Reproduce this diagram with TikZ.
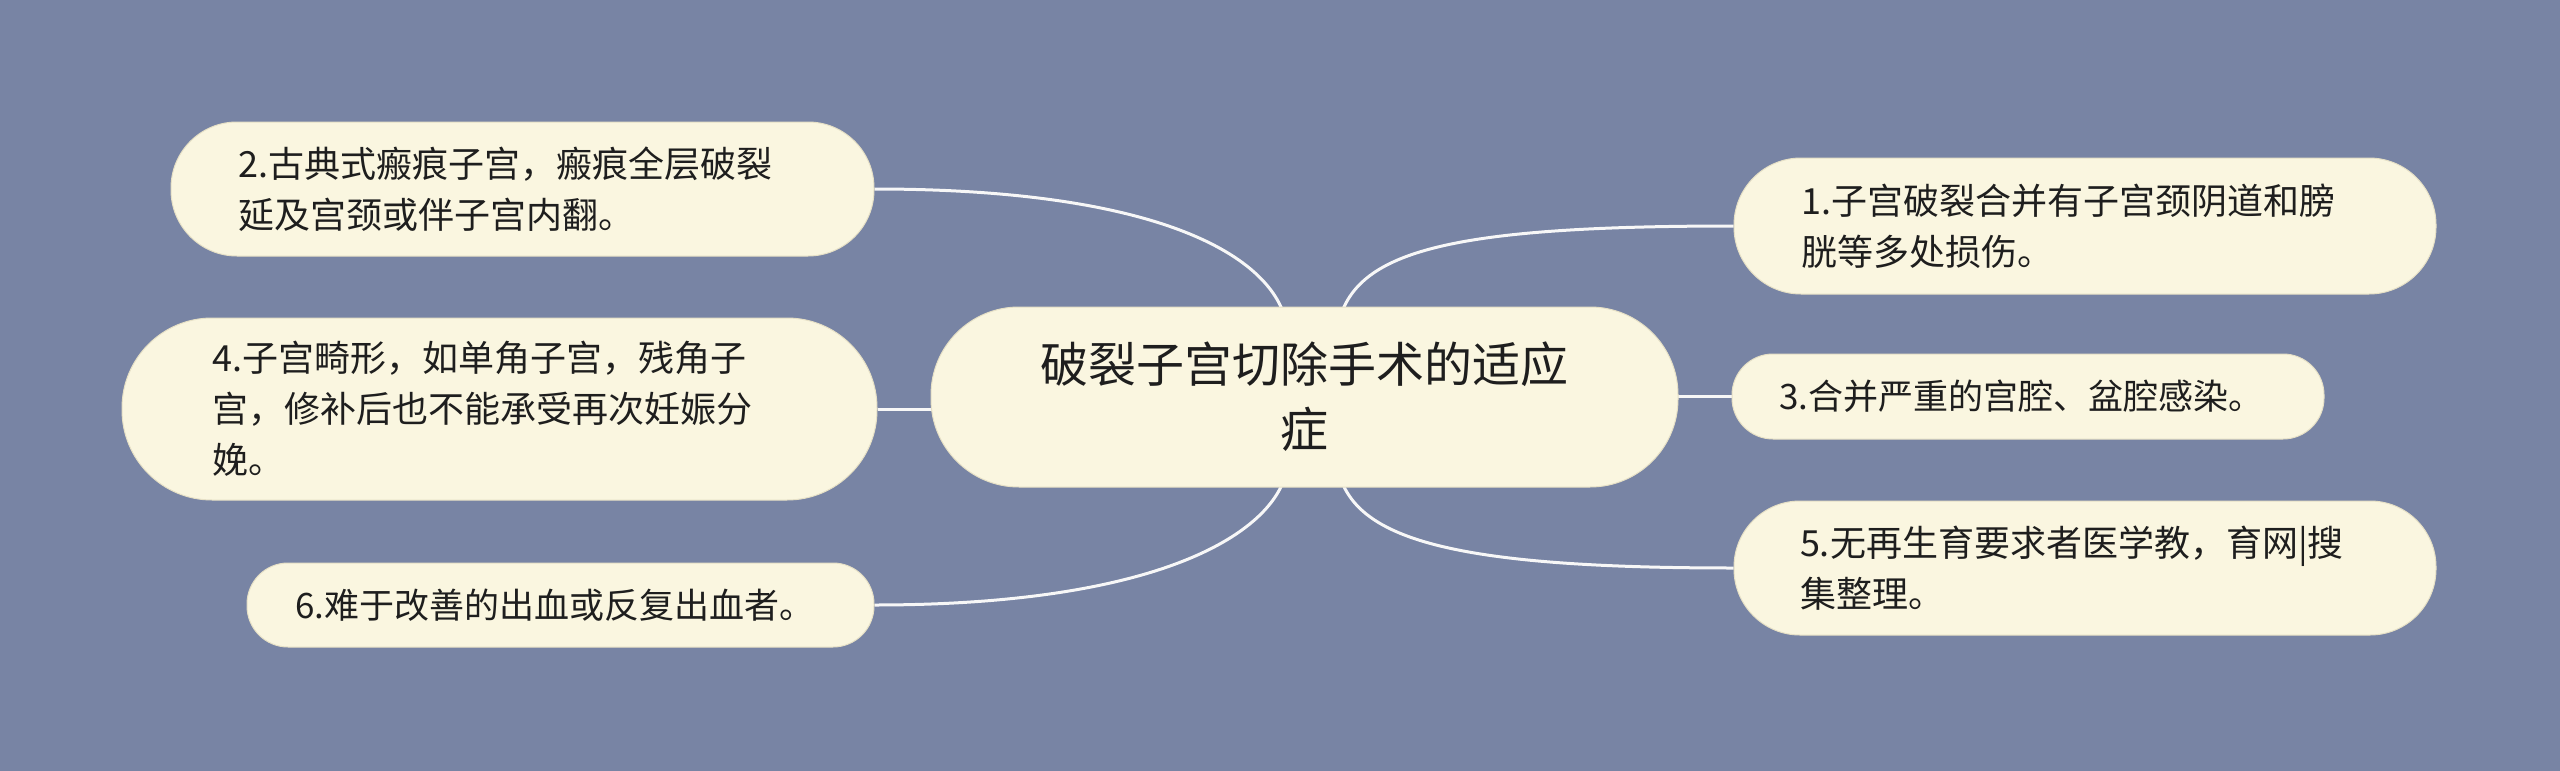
\documentclass[tikz,border=0pt]{standalone}
\usepackage{fontspec}
\setmainfont{Noto Sans CJK SC}
\usetikzlibrary{calc,backgrounds}
\definecolor{bgc}{HTML}{7884A4}
\definecolor{nodefill}{HTML}{FAF6E0}
\definecolor{nodeedge}{HTML}{E6E0C6}
\definecolor{txt}{HTML}{1E1E1E}
\definecolor{wire}{HTML}{F7F7F7}
\begin{document}
\begin{tikzpicture}[x=1pt,y=-1pt,
  pill/.style={fill=nodefill, draw=nodeedge, line width=1pt, inner sep=0pt, text=txt},
  topic/.style={pill, align=left, font=\fontsize{36}{51}\selectfont},
  maintopic/.style={pill, align=center, font=\fontsize{48}{65}\selectfont},
  link/.style={draw=wire, line width=3pt}]
\useasboundingbox (0,0) rectangle (2560,771);

\node[maintopic, minimum width=747pt, minimum height=180pt, rounded corners=88pt] (c) at (1304.5,397) {破裂子宫切除手术的适应\\症};

\node[topic, text width=568pt, minimum width=703pt, minimum height=134pt, rounded corners=66pt] (n2) at (522.5,189) {2.古典式瘢痕子宫，瘢痕全层破裂\\延及宫颈或伴子宫内翻。};
\node[topic, text width=574pt, minimum width=755pt, minimum height=182pt, rounded corners=90pt] (n4) at (499.5,409) {4.子宫畸形，如单角子宫，残角子\\宫，修补后也不能承受再次妊娠分\\娩。};
\node[topic, text width=530pt, minimum width=627pt, minimum height=84pt, rounded corners=41pt, font=\fontsize{35}{51}\selectfont] (n6) at (560.5,605) {6.难于改善的出血或反复出血者。};

\node[topic, text width=568pt, minimum width=702pt, minimum height=136pt, rounded corners=67pt] (n1) at (2085,226) {1.子宫破裂合并有子宫颈阴道和膀\\胱等多处损伤。};
\node[topic, text width=498pt, minimum width=592pt, minimum height=85pt, rounded corners=41pt, font=\fontsize{35}{51}\selectfont] (n3) at (2028,396.5) {3.合并严重的宫腔、盆腔感染。};
\node[topic, text width=570pt, minimum width=702pt, minimum height=134pt, rounded corners=66pt] (n5) at (2085,568) {5.无再生育要求者医学教，育网|搜\\集整理。};

\begin{scope}[on background layer]
\fill[bgc] (0,0) rectangle (2560,771);
\draw[link] (n2.east) .. controls +(269,0) and +(-25,-62) .. ($(c.north)+(-22,4)$);
\draw[link] (n6.east) .. controls +(269,0) and +(-25,58) .. ($(c.south)+(-22,-4)$);
\draw[link] (n1.west) .. controls +(-269,0) and +(25,-62) .. ($(c.north)+(38,4)$);
\draw[link] (n5.west) .. controls +(-269,0) and +(25,58) .. ($(c.south)+(38,-4)$);
\draw[link] (n4.east) -- ($(n4.east -| c.west)+(10,0)$);
\draw[link] (n3.west) -- ($(n3.west -| c.east)+(-10,0)$);
\end{scope}
\end{tikzpicture}
\end{document}
